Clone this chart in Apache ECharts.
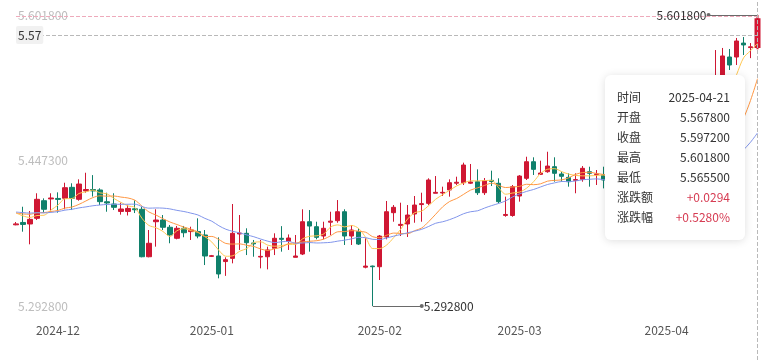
<!DOCTYPE html>
<html><head><meta charset="utf-8">
<script src="https://cdn.jsdelivr.net/npm/echarts@6/dist/echarts.min.js"></script>
<style>html,body{margin:0;padding:0;background:#fff}#c{width:775px;height:360px}</style>
</head><body><div id="c"></div>
<script>
const dates = [
'2024-11-22','2024-11-25','2024-11-26','2024-11-27','2024-11-28','2024-11-29',
'2024-12-02','2024-12-03','2024-12-04','2024-12-05','2024-12-06','2024-12-09','2024-12-10','2024-12-11','2024-12-12','2024-12-13',
'2024-12-16','2024-12-17','2024-12-18','2024-12-19','2024-12-20','2024-12-23','2024-12-24','2024-12-25','2024-12-26','2024-12-27',
'2024-12-30','2024-12-31',
'2025-01-01','2025-01-02','2025-01-03','2025-01-06','2025-01-07','2025-01-08','2025-01-09','2025-01-10','2025-01-13','2025-01-14',
'2025-01-15','2025-01-16','2025-01-17','2025-01-20','2025-01-21','2025-01-22','2025-01-23','2025-01-24','2025-01-26','2025-01-27',
'2025-01-28','2025-01-29','2025-01-30','2025-01-31',
'2025-02-03','2025-02-04','2025-02-05','2025-02-06','2025-02-07','2025-02-10','2025-02-11','2025-02-12','2025-02-13','2025-02-14',
'2025-02-17','2025-02-18','2025-02-19','2025-02-20','2025-02-21','2025-02-24','2025-02-25','2025-02-26','2025-02-27','2025-02-28',
'2025-03-03','2025-03-04','2025-03-05','2025-03-06','2025-03-07','2025-03-10','2025-03-11','2025-03-12','2025-03-13','2025-03-14',
'2025-03-17','2025-03-18','2025-03-19','2025-03-20','2025-03-21','2025-03-24','2025-03-25','2025-03-26','2025-03-27','2025-03-28',
'2025-03-31',
'2025-04-01','2025-04-02','2025-04-03','2025-04-07','2025-04-08','2025-04-09','2025-04-10','2025-04-11','2025-04-14','2025-04-15',
'2025-04-16','2025-04-17','2025-04-18','2025-04-21'];

const opens = [
5.3790,5.3815,5.3799,5.3859,5.4046,5.4065,5.4070,5.4072,5.4188,5.4061,
5.4150,5.4165,5.4160,5.4035,5.4011,5.3932,5.3932,5.3960,5.3955,5.3451,
5.3823,5.3841,5.3764,5.3647,5.3753,5.3718,5.3718,5.3682,5.3455,5.3459,
5.3400,5.3434,5.3693,5.3700,5.3597,5.3448,5.3451,5.3541,5.3647,5.3615,
5.3445,5.3480,5.3823,5.3770,5.3671,5.3818,5.3834,5.3929,5.3671,5.3718,
5.3340,5.3352,5.3345,5.3661,5.3919,5.3784,5.3799,5.3905,5.4005,5.4018,
5.4125,5.4128,5.4160,5.4232,5.4237,5.4232,5.4248,5.4131,5.4262,5.4231,
5.3890,5.3889,5.4096,5.4284,5.4460,5.4326,5.4354,5.4407,5.4330,5.4294,
5.4262,5.4273,5.4354,5.4325,5.4319,5.4266,5.4050,5.4000,5.4030,5.4200,
5.4310,5.4380,5.4420,5.4400,5.4390,5.4320,5.3790,5.3700,5.4300,5.4850,
5.4800,5.5300,5.5572,5.5572,5.5720,5.5672,5.5678];
const closes = [
5.3800,5.3794,5.3848,5.4061,5.3955,5.4075,5.4060,5.4184,5.4072,5.4223,
5.4165,5.4150,5.4036,5.4022,5.3976,5.3958,5.3964,5.3950,5.3451,5.3594,
5.3841,5.3764,5.3682,5.3753,5.3706,5.3735,5.3671,5.3459,5.3462,5.3268,
5.3420,5.3700,5.3703,5.3600,5.3588,5.3455,5.3523,5.3647,5.3636,5.3650,
5.3459,5.3823,5.3777,5.3657,5.3753,5.3829,5.3929,5.3671,5.3735,5.3586,
5.3352,5.3345,5.3671,5.3929,5.3976,5.3795,5.3894,5.4000,5.4015,5.4266,
5.4135,5.4135,5.4237,5.4242,5.4425,5.4245,5.4131,5.4258,5.4250,5.4036,
5.3900,5.4195,5.4308,5.4460,5.4379,5.4340,5.4414,5.4337,5.4305,5.4248,
5.4270,5.4390,5.4337,5.4330,5.4266,5.4050,5.4000,5.4030,5.4200,5.4310,
5.4380,5.4420,5.4400,5.4390,5.4320,5.3790,5.3660,5.4300,5.4850,5.4800,
5.5300,5.5583,5.5487,5.5742,5.5700,5.5680,5.5972];
const lows = [
5.3785,5.3717,5.3583,5.3841,5.3915,5.3929,5.3919,5.3955,5.3947,5.4046,
5.4131,5.4090,5.4000,5.3929,5.3947,5.3898,5.3889,5.3915,5.3445,5.3445,
5.3558,5.3735,5.3594,5.3636,5.3658,5.3629,5.3647,5.3363,5.3448,5.3222,
5.3248,5.3381,5.3523,5.3469,5.3451,5.3328,5.3317,5.3469,5.3505,5.3523,
5.3445,5.3469,5.3505,5.3636,5.3636,5.3682,5.3812,5.3576,5.3576,5.3576,
5.3328,5.2928,5.3204,5.3636,5.3823,5.3671,5.3661,5.3812,5.3823,5.4000,
5.4125,5.4096,5.4089,5.4213,5.4213,5.4223,5.4107,5.4107,5.4202,5.4018,
5.3876,5.3876,5.4036,5.4266,5.4319,5.4320,5.4343,5.4248,5.4248,5.4195,
5.4125,5.4248,5.4195,5.4213,5.4177,5.4020,5.3950,5.3960,5.4010,5.4160,
5.4270,5.4330,5.4350,5.4320,5.4280,5.3740,5.3650,5.3660,5.4250,5.4700,
5.4780,5.5250,5.5434,5.5487,5.5593,5.5560,5.5655];
const highs = [
5.3820,5.3982,5.3937,5.4125,5.4071,5.4125,5.4135,5.4237,5.4231,5.4273,
5.4343,5.4318,5.4178,5.4131,5.4125,5.4025,5.4003,5.4050,5.3982,5.3735,
5.3955,5.3894,5.3788,5.3778,5.3778,5.3770,5.3859,5.3735,5.3470,5.3657,
5.3445,5.4011,5.3894,5.3753,5.3629,5.3629,5.3558,5.3700,5.3776,5.3688,
5.3682,5.3955,5.3947,5.3823,5.3823,5.3929,5.4053,5.3955,5.3788,5.3753,
5.3647,5.3357,5.3682,5.4043,5.4000,5.4025,5.4000,5.4096,5.4131,5.4284,
5.4308,5.4195,5.4273,5.4301,5.4450,5.4436,5.4379,5.4287,5.4365,5.4284,
5.4089,5.4213,5.4318,5.4513,5.4507,5.4471,5.4566,5.4507,5.4354,5.4337,
5.4337,5.4414,5.4407,5.4372,5.4407,5.4290,5.4110,5.4090,5.4230,5.4350,
5.4420,5.4480,5.4460,5.4440,5.4420,5.4350,5.3840,5.4350,5.4900,5.5050,
5.5646,5.5668,5.5657,5.5774,5.5784,5.5720,5.6018];
// closes before the first visible day (only feed the moving averages)
const priorCloses = [5.3920,5.3950,5.3980,5.4000,5.3960,5.3900,5.3870,5.3890,5.3930,5.3950,
5.3910,5.3880,5.3900,5.3940,5.3960,5.3950,5.3930,5.3960,5.3940];
const yTickLabels = [5.2928, 5.4473, 5.6018];
const crosshairValue = 5.57;
const tipLabels = ['时间','开盘','收盘','最高','最低','涨跌额','涨跌幅'];
const maPeriods = [5, 10, 20];

const RED = '#cf1733', GREEN = '#10806b';
const maColors = ['#f4b54a', '#ef8a3d', '#7688d6'];
const FONT = "'Noto Sans CJK SC','Noto Sans',sans-serif";

const ohlc = opens.map((o, i) => [o, closes[i], lows[i], highs[i]]);
const allCloses = priorCloses.concat(closes);
function ma(n) {
  return closes.map((_, i) => {
    const j = i + priorCloses.length;
    let s = 0;
    for (let k = j - n + 1; k <= j; k++) s += allCloses[k];
    return +(s / n).toFixed(5);
  });
}
let maxI = 0, minI = 0;
highs.forEach((h, i) => { if (h > highs[maxI]) maxI = i; });
lows.forEach((l, i) => { if (l < lows[minI]) minI = i; });
const maxV = highs[maxI], minV = lows[minI];
const lastClose = closes[closes.length - 1];

const chart = echarts.init(document.getElementById('c'), null, { renderer: 'canvas' });
const leaderStyle = { color: '#6a6a6a', width: 1, type: 'solid' };
const leaderLabel = (txt) => ({ show: true, position: 'end', formatter: txt, color: '#333', fontSize: 12, distance: 2, fontFamily: FONT });
const option = {
  animation: false,
  textStyle: { fontFamily: FONT },
  grid: { left: 16, right: 17.5, top: 0, bottom: 0 },
  xAxis: {
    type: 'category', data: dates, boundaryGap: false,
    axisLine: { show: false }, axisTick: { show: false }, splitLine: { show: false },
    axisLabel: {
      inside: true, margin: 24, color: '#555', fontSize: 12, fontFamily: FONT,
      interval: (i) => i > 0 && dates[i].slice(0, 7) !== dates[i - 1].slice(0, 7),
      formatter: (v) => v.slice(0, 7)
    },
    axisPointer: { label: { show: false } }
  },
  yAxis: {
    type: 'value', min: 5.235460, max: 5.617728,
    splitLine: { show: false }, axisLine: { show: false }, axisTick: { show: false },
    axisLabel: {
      inside: true, margin: 2, color: '#bdbdbd', fontSize: 12, fontFamily: FONT,
      customValues: yTickLabels, formatter: (v) => v.toFixed(6)
    },
    axisPointer: {
      label: {
        show: true, margin: 0, padding: [3, 2, 3, 2], backgroundColor: '#f1f1f1',
        color: '#333', fontSize: 12, fontFamily: FONT, borderRadius: 2,
        formatter: () => crosshairValue.toFixed(2)
      }
    }
  },
  tooltip: {
    trigger: 'axis', triggerOn: 'none', alwaysShowContent: true,
    transitionDuration: 0, showDelay: 0, hideDelay: 0,
    axisPointer: {
      type: 'cross', snap: false,
      crossStyle: { color: '#b9b9b9', width: 1, type: 'dashed' },
      lineStyle: { color: '#b9b9b9', width: 1, type: 'dashed' }
    },
    position: () => [605, 75],
    padding: 0, borderWidth: 0, backgroundColor: '#fff',
    extraCssText: 'box-shadow:0 1px 8px rgba(0,0,0,0.13);border-radius:6px;',
    formatter: (params) => {
      const p = params.find(q => q.seriesType === 'candlestick') || params[0];
      const i = p.dataIndex;
      const o = opens[i], c = closes[i], h = highs[i], l = lows[i];
      const chg = c - o, pct = chg / o * 100;
      const sign = chg >= 0 ? '+' : '';
      const col = chg >= 0 ? '#d63b52' : GREEN;
      const vals = [[dates[i], '#333'], [o.toFixed(6), '#333'], [c.toFixed(6), '#333'],
        [h.toFixed(6), '#333'], [l.toFixed(6), '#333'],
        [sign + chg.toFixed(4), col], [sign + pct.toFixed(4) + '%', col]];
      let html = '<div style="padding:12px 15px 13px 12px;width:113px;font-size:12px;font-family:' + FONT.replace(/'/g, '&quot;') + ';color:#333;">';
      tipLabels.forEach((lab, k) => {
        html += '<div style="display:flex;justify-content:space-between;height:20px;line-height:20px;white-space:nowrap;">' +
          '<span>' + lab + '</span><span style="color:' + vals[k][1] + '">' + vals[k][0] + '</span></div>';
      });
      return html + '</div>';
    }
  },
  series: [
    {
      type: 'candlestick', name: 'K', data: ohlc, barWidth: '68%', clip: false,
      itemStyle: { color: RED, color0: GREEN, borderColor: RED, borderColor0: GREEN, borderWidth: 1 },
      markLine: {
        silent: true, animation: false, symbol: ['none', 'none'],
        data: [
          [{ coord: [dates[maxI], maxV], symbol: 'none', lineStyle: leaderStyle, label: leaderLabel(maxV.toFixed(6)) },
           { coord: [dates[maxI - 7], maxV], symbol: 'circle', symbolSize: 4 }],
          [{ coord: [dates[minI], minV], symbol: 'none', lineStyle: leaderStyle, label: leaderLabel(minV.toFixed(6)) },
           { coord: [dates[minI + 7], minV], symbol: 'circle', symbolSize: 4 }],
          { yAxis: lastClose, lineStyle: { color: '#eeaabb', width: 1, type: 'dashed' }, label: { show: false } }
        ]
      }
    },
    ...maPeriods.map((n, k) => ({
      type: 'line', name: 'MA' + n, data: ma(n), smooth: 0.3, showSymbol: false,
      symbol: 'none', lineStyle: { width: 1, color: maColors[k] }, itemStyle: { color: maColors[k] }, z: 3
    }))
  ]
};
chart.setOption(option);
function tip() { chart.dispatchAction({ type: 'showTip', x: 757, y: 35 }); }
tip();
setTimeout(tip, 30);
</script></body></html>
